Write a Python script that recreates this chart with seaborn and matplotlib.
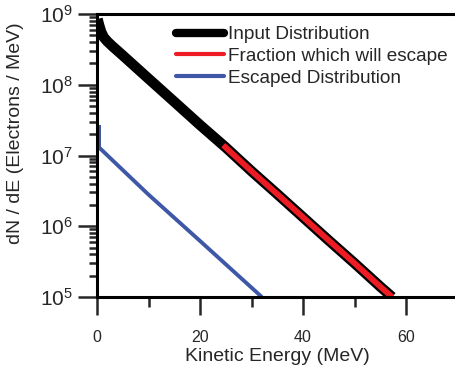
import numpy as np
import pandas as pd
import matplotlib
matplotlib.use("Agg")
import matplotlib.pyplot as plt
from matplotlib.lines import Line2D
import seaborn as sns

# values (E in MeV, dN/dE in electrons/MeV)
input_E = [0.1, 0.4, 0.8, 1.3, 2, 3, 5, 10, 15, 20, 25, 30, 35, 40, 45, 50, 55, 57.3]
input_N = [8.5e8, 7.0e8, 5.6e8, 4.7e8, 4.1e8, 3.5e8, 2.6e8, 1.22e8, 5.75e7, 2.7e7,
           1.3e7, 6.0e6, 2.85e6, 1.34e6, 6.3e5, 3.0e5, 1.4e5, 1.0e5]
escape_E = [24.5, 30, 35, 40, 45, 50, 55, 57.3]
escape_N = [1.4e7, 6.0e6, 2.85e6, 1.34e6, 6.3e5, 3.0e5, 1.4e5, 1.0e5]
escaped_E = [0.4, 0.4, 10, 20, 32]
escaped_N = [2.7e7, 1.3e7, 2.8e6, 6.2e5, 1.0e5]

red = "#ed1c24"
blue = "#3f57a7"

sns.set_style("ticks")
plt.rcParams["font.family"] = ["Liberation Sans", "DejaVu Sans"]

fig = plt.figure(figsize=(4.55, 3.79), dpi=100)
ax = fig.add_axes([97/455, 1-297/379, 1-97/455, (297-14)/379])

sns.lineplot(x=input_E, y=input_N, ax=ax, color="black", linewidth=7.5,
             estimator=None, sort=False, solid_capstyle="butt")
sns.lineplot(x=escape_E, y=escape_N, ax=ax, color=red, linewidth=4.2,
             estimator=None, sort=False, solid_capstyle="butt")
sns.lineplot(x=escaped_E, y=escaped_N, ax=ax, color=blue, linewidth=2.8,
             estimator=None, sort=False, solid_capstyle="butt")

ax.set_yscale("log")
ax.set_ylim(1e5, 1e9)
ax.set_xlim(0, 69.5)
ax.set_xticks([0, 20, 40, 60])
ax.set_xticks([10, 30, 50], minor=True)

for s in ["left", "bottom", "top"]:
    ax.spines[s].set_linewidth(2.2)
    ax.spines[s].set_color("black")
ax.spines["right"].set_visible(False)

ax.tick_params(axis="x", which="major", length=13, width=1.8, pad=11, labelsize=11.5, direction="out")
ax.tick_params(axis="x", which="minor", length=7, width=1.8, direction="out")
ax.tick_params(axis="y", which="major", length=13.7, width=1.8, pad=4, labelsize=15, direction="out")
ax.tick_params(axis="y", which="minor", length=5.5, width=1.8, direction="out")

ax.set_xlabel("Kinetic Energy (MeV)", fontsize=14)
ax.set_ylabel("dN / dE (Electrons / MeV)", fontsize=14)
ax.yaxis.set_label_coords(-0.205, 0.58)
ax.xaxis.set_label_coords(0.504, -0.18)

handles = [Line2D([], [], color="black", linewidth=6),
           Line2D([], [], color=red, linewidth=3),
           Line2D([], [], color=blue, linewidth=3)]
labels = ["Input Distribution", "Fraction which will escape", "Escaped Distribution"]
ax.legend(handles, labels, loc="upper left", bbox_to_anchor=(0.2, 0.985), frameon=False,
          fontsize=13.7, handlelength=2.5, handletextpad=0.2, labelspacing=0.24,
          borderaxespad=0)

fig.savefig("out.png", dpi=100)
